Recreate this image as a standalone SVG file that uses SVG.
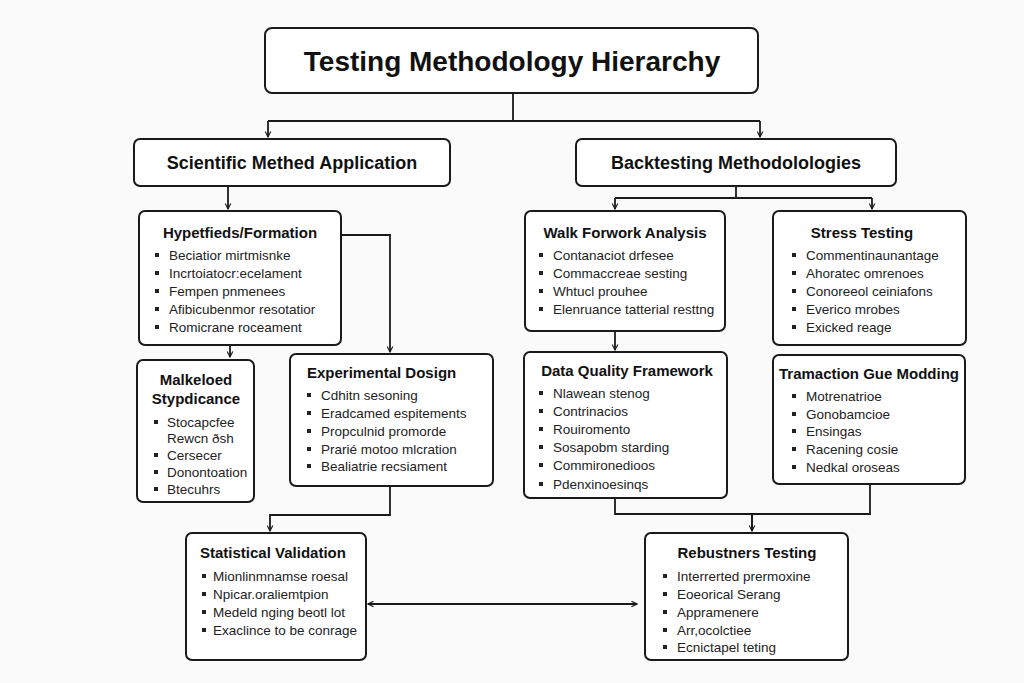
<svg xmlns="http://www.w3.org/2000/svg" width="1024" height="683" viewBox="0 0 1024 683">
<defs>
<marker id="ah" viewBox="0 0 10 10" refX="9" refY="5" markerWidth="7" markerHeight="7" orient="auto-start-reverse" markerUnits="userSpaceOnUse">
<path d="M1,1 L9,5 L1,9" fill="none" stroke="#1a1a1a" stroke-width="1.6"/>
</marker>
<style>
.bx{fill:#fff;stroke:#1a1a1a;stroke-width:2}
.ln{fill:none;stroke:#1a1a1a;stroke-width:1.8}
.ttl{font-family:"Liberation Sans",Arial,sans-serif;font-weight:bold;fill:#111}
.h{font-family:"Liberation Sans",Arial,sans-serif;font-weight:bold;font-size:15px;fill:#111}
.it{font-family:"Liberation Sans",Arial,sans-serif;font-size:13.5px;fill:#222}
.b{fill:#222}
</style>
</defs>
<rect width="1024" height="683" fill="#fafafa"/>

<g id="connectors">
<path class="ln" d="M513,93 V121 M268,121 H760"/>
<path class="ln" d="M268,121 V137" marker-end="url(#ah)"/>
<path class="ln" d="M760,121 V137" marker-end="url(#ah)"/>
<path class="ln" d="M228,186 V209" marker-end="url(#ah)"/>
<path class="ln" d="M341,235 H390 V352" marker-end="url(#ah)"/>
<path class="ln" d="M230,345 V357" marker-end="url(#ah)"/>
<path class="ln" d="M390,486 V515 H270 V531" marker-end="url(#ah)"/>
<path class="ln" d="M368,604 H637" marker-start="url(#ah)" marker-end="url(#ah)"/>
<path class="ln" d="M736,186 V198 M615,198 H872"/>
<path class="ln" d="M615,198 V209" marker-end="url(#ah)"/>
<path class="ln" d="M872,198 V209" marker-end="url(#ah)"/>
<path class="ln" d="M615,331 V350" marker-end="url(#ah)"/>
<path class="ln" d="M615,498 V514 H870 V484 M752,514 V531"/>
<path class="ln" d="M752,514 V531" marker-end="url(#ah)"/>
</g>

<g id="title">
<rect class="bx" x="265" y="28" width="493" height="65" rx="7"/>
<text class="ttl" x="512" y="71" font-size="28" text-anchor="middle">Testing Methodology Hierarchy</text>
</g>

<g id="scientific">
<rect class="bx" x="134" y="139" width="316" height="47" rx="6"/>
<text class="ttl" x="292" y="169" font-size="18" text-anchor="middle">Scientific Methed Application</text>
</g>

<g id="backtesting">
<rect class="bx" x="576" y="139" width="320" height="47" rx="6"/>
<text class="ttl" x="736" y="169" font-size="18" text-anchor="middle">Backtesting Methodolologies</text>
</g>

<g id="hypothesis">
<rect class="bx" x="139" y="211" width="202" height="134" rx="6"/>
<text class="h" x="240" y="238" text-anchor="middle">Hypetfieds/Formation</text>
<rect class="b" x="155" y="253" width="4" height="4"/><text class="it" x="169" y="260">Beciatior mirtmisnke</text>
<rect class="b" x="155" y="271" width="4" height="4"/><text class="it" x="169" y="278">Incrtoiatocr:ecelament</text>
<rect class="b" x="155" y="289" width="4" height="4"/><text class="it" x="169" y="296">Fempen pnmenees</text>
<rect class="b" x="155" y="307" width="4" height="4"/><text class="it" x="169" y="314">Afibicubenmor resotatior</text>
<rect class="b" x="155" y="325" width="4" height="4"/><text class="it" x="169" y="332">Romicrane roceament</text>
</g>

<g id="malkeloed">
<rect class="bx" x="137" y="360" width="117" height="142" rx="6"/>
<text class="h" x="196" y="385" text-anchor="middle">Malkeloed</text>
<text class="h" x="196" y="404" text-anchor="middle">Stypdicance</text>
<rect class="b" x="154" y="420" width="4" height="4"/><text class="it" x="167" y="427">Stocapcfee</text>
<text class="it" x="167" y="443">Rewcn ðsh</text>
<rect class="b" x="154" y="453" width="4" height="4"/><text class="it" x="167" y="460">Cersecer</text>
<rect class="b" x="154" y="470" width="4" height="4"/><text class="it" x="167" y="477">Donontoation</text>
<rect class="b" x="154" y="487" width="4" height="4"/><text class="it" x="167" y="494">Btecuhrs</text>
</g>

<g id="experimental">
<rect class="bx" x="290" y="354" width="203" height="132" rx="6"/>
<text class="h" x="307" y="378">Experimental Dosign</text>
<rect class="b" x="307" y="393" width="4" height="4"/><text class="it" x="321" y="400">Cdhitn sesoning</text>
<rect class="b" x="307" y="411" width="4" height="4"/><text class="it" x="321" y="418">Eradcamed espitements</text>
<rect class="b" x="307" y="429" width="4" height="4"/><text class="it" x="321" y="436">Propculnid promorde</text>
<rect class="b" x="307" y="447" width="4" height="4"/><text class="it" x="321" y="454">Prarié  motoo mlcration</text>
<rect class="b" x="307" y="464" width="4" height="4"/><text class="it" x="321" y="471">Bealiatrie recsiament</text>
</g>

<g id="statistical">
<rect class="bx" x="186" y="533" width="180" height="127" rx="6"/>
<text class="h" x="200" y="558">Statistical Validation</text>
<rect class="b" x="202" y="574" width="4" height="4"/><text class="it" x="213" y="581">Mionlinmnamse roesal</text>
<rect class="b" x="202" y="592" width="4" height="4"/><text class="it" x="213" y="599">Npicar.oraliemtpion</text>
<rect class="b" x="202" y="610" width="4" height="4"/><text class="it" x="213" y="617">Medeld nging beotl lot</text>
<rect class="b" x="202" y="628" width="4" height="4"/><text class="it" x="213" y="635">Exaclince to be conrage</text>
</g>

<g id="walkforward">
<rect class="bx" x="525" y="211" width="200" height="120" rx="6"/>
<text class="h" x="625" y="238" text-anchor="middle">Walk Forwork Analysis</text>
<rect class="b" x="539" y="253" width="4" height="4"/><text class="it" x="553" y="260">Contanaciot drfesee</text>
<rect class="b" x="539" y="271" width="4" height="4"/><text class="it" x="553" y="278">Commaccreae sesting</text>
<rect class="b" x="539" y="289" width="4" height="4"/><text class="it" x="553" y="296">Whtucl prouhee</text>
<rect class="b" x="539" y="307" width="4" height="4"/><text class="it" x="553" y="314">Elenruance tatterial resttng</text>
</g>

<g id="stress">
<rect class="bx" x="773" y="211" width="193" height="134" rx="6"/>
<text class="h" x="862" y="238" text-anchor="middle">Stress Testing</text>
<rect class="b" x="792" y="253" width="4" height="4"/><text class="it" x="806" y="260">Commentinaunantage</text>
<rect class="b" x="792" y="271" width="4" height="4"/><text class="it" x="806" y="278">Ahoratec omrenoes</text>
<rect class="b" x="792" y="289" width="4" height="4"/><text class="it" x="806" y="296">Conoreeol ceiniafons</text>
<rect class="b" x="792" y="307" width="4" height="4"/><text class="it" x="806" y="314">Everico mrobes</text>
<rect class="b" x="792" y="325" width="4" height="4"/><text class="it" x="806" y="332">Exicked reage</text>
</g>

<g id="dataquality">
<rect class="bx" x="524" y="352" width="203" height="146" rx="6"/>
<text class="h" x="627" y="376" text-anchor="middle">Data Quality Framework</text>
<rect class="b" x="539" y="391" width="4" height="4"/><text class="it" x="553" y="398">Nlawean stenog</text>
<rect class="b" x="539" y="409" width="4" height="4"/><text class="it" x="553" y="416">Contrinacios</text>
<rect class="b" x="539" y="427" width="4" height="4"/><text class="it" x="553" y="434">Rouiromento</text>
<rect class="b" x="539" y="445" width="4" height="4"/><text class="it" x="553" y="452">Sosapobm starding</text>
<rect class="b" x="539" y="463" width="4" height="4"/><text class="it" x="553" y="470">Commironedioos</text>
<rect class="b" x="539" y="482" width="4" height="4"/><text class="it" x="553" y="489">Pdenxinoesinqs</text>
</g>

<g id="transaction">
<rect class="bx" x="773" y="355" width="192" height="129" rx="6"/>
<text class="h" x="869" y="379" text-anchor="middle">Tramaction Gue Modding</text>
<rect class="b" x="792" y="394" width="4" height="4"/><text class="it" x="806" y="401">Motrenatrioe</text>
<rect class="b" x="792" y="412" width="4" height="4"/><text class="it" x="806" y="419">Gonobamcioe</text>
<rect class="b" x="792" y="429" width="4" height="4"/><text class="it" x="806" y="436">Ensingas</text>
<rect class="b" x="792" y="447" width="4" height="4"/><text class="it" x="806" y="454">Racening cosie</text>
<rect class="b" x="792" y="465" width="4" height="4"/><text class="it" x="806" y="472">Nedkal oroseas</text>
</g>

<g id="robustness">
<rect class="bx" x="645" y="533" width="203" height="127" rx="6"/>
<text class="h" x="747" y="558" text-anchor="middle">Rebustners Testing</text>
<rect class="b" x="663" y="574" width="4" height="4"/><text class="it" x="677" y="581">Interrerted prermoxine</text>
<rect class="b" x="663" y="592" width="4" height="4"/><text class="it" x="677" y="599">Eoeorical Serang</text>
<rect class="b" x="663" y="610" width="4" height="4"/><text class="it" x="677" y="617">Appramenere</text>
<rect class="b" x="663" y="628" width="4" height="4"/><text class="it" x="677" y="635">Arr,ocolctiee</text>
<rect class="b" x="663" y="645" width="4" height="4"/><text class="it" x="677" y="652">Ecnictapel teting</text>
</g>
</svg>
